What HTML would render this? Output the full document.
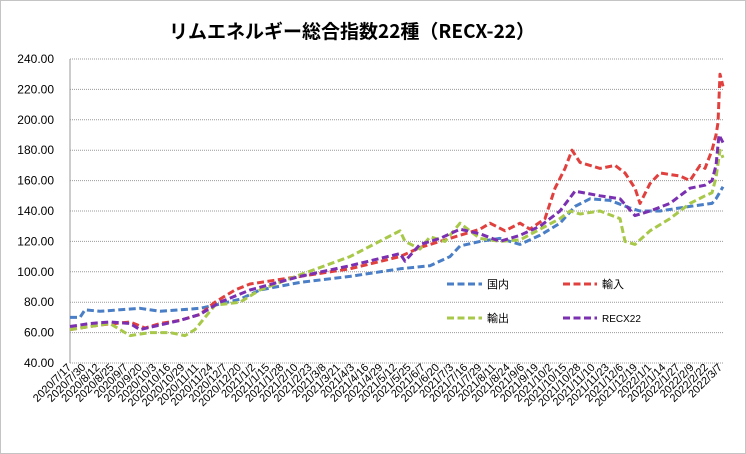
<!DOCTYPE html>
<html><head><meta charset="utf-8"><style>
body{margin:0;background:#fff}
svg{display:block;font-family:"Liberation Sans","Noto Sans CJK JP",sans-serif}
</style></head><body>
<svg id="s" width="746" height="454" viewBox="0 0 746 454" xmlns="http://www.w3.org/2000/svg">
<rect x="0.5" y="0.5" width="745" height="453" fill="#fff" stroke="#888" stroke-dasharray="1 1"/>
<text x="352" y="38" text-anchor="middle" font-size="19" font-weight="bold" font-family="'Noto Sans CJK JP',sans-serif">リムエネルギー総合指数22種（RECX-22）</text>
<g id="grid"></g>
<g id="ylab" font-size="12" text-anchor="end"></g>
<g id="xlab" font-size="11"></g>
<g id="series" fill="none" stroke-width="3" stroke-dasharray="7 3.5" stroke-linejoin="round"></g>
<g font-size="11" font-family="'Noto Sans CJK JP',sans-serif">
<line x1="447" y1="284" x2="482" y2="284" stroke="#4a7ec6" stroke-width="3" stroke-dasharray="7 3.5"/><text x="487" y="288">国内</text>
<line x1="563" y1="284" x2="597" y2="284" stroke="#e0403e" stroke-width="3" stroke-dasharray="7 3.5"/><text x="602" y="288">輸入</text>
<line x1="447" y1="318" x2="482" y2="318" stroke="#a8c84a" stroke-width="3" stroke-dasharray="7 3.5"/><text x="487" y="322">輸出</text>
<line x1="563" y1="318" x2="597" y2="318" stroke="#7a30b0" stroke-width="3" stroke-dasharray="7 3.5"/><text x="602" y="322" font-family="'Liberation Sans',sans-serif" font-size="10">RECX22</text>
</g>
</svg>
<script>
const NS="http://www.w3.org/2000/svg";
const Y=v=>59+(240-v)*1.52;
function el(p,t,a,txt){const e=document.createElementNS(NS,t);for(const k in a)e.setAttribute(k,a[k]);if(txt)e.textContent=txt;document.getElementById(p).appendChild(e);}
for(let v=40;v<=240;v+=20){el("grid","line",{x1:70,x2:723,y1:Y(v),y2:Y(v),stroke:"#999","stroke-dasharray":"1 1"});el("ylab","text",{x:54,y:Y(v)+4},v.toFixed(2));}
el("grid","line",{x1:70,x2:70,y1:59,y2:363,stroke:"#999"});
const labs=["2020/7/17","2020/7/30","2020/8/12","2020/8/25","2020/9/7","2020/9/20","2020/10/3","2020/10/16","2020/10/29","2020/11/11","2020/11/24","2020/12/7","2020/12/20","2021/1/2","2021/1/15","2021/1/28","2021/2/10","2021/2/23","2021/3/8","2021/3/21","2021/4/3","2021/4/16","2021/4/29","2021/5/12","2021/5/25","2021/6/7","2021/6/20","2021/7/3","2021/7/16","2021/7/29","2021/8/11","2021/8/24","2021/9/6","2021/9/19","2021/10/2","2021/10/15","2021/10/28","2021/11/10","2021/11/23","2021/12/6","2021/12/19","2022/1/1","2022/1/14","2022/1/27","2022/2/9","2022/2/22","2022/3/7"];
labs.forEach((l,i)=>{const x=72+i*14.15;el("xlab","text",{x:x,y:368,"text-anchor":"end",transform:`rotate(-45 ${x} 368)`},l);});
const S=[
["#4a7ec6",[[70,70],[80,70],[85,75],[100,74],[140,76],[160,74],[200,76],[215,78],[240,82],[260,88],[300,93],[350,97],[400,102],[430,104],[450,110],[460,117],[480,120],[500,122],[520,118],[540,124],[560,132],[575,143],[590,148],[610,147],[630,142],[640,140],[660,140],[690,143],[712,145],[716,148],[723,156]]],
["#e0403e",[[70,62],[100,65],[130,67],[145,63],[160,66],[180,68],[200,72],[215,80],[235,88],[250,92],[300,97],[350,102],[400,110],[420,116],[440,120],[460,124],[480,128],[490,132],[505,127],[520,132],[530,128],[545,135],[555,155],[565,168],[572,180],[580,172],[600,168],[615,170],[625,165],[635,155],[640,145],[650,158],[660,165],[680,163],[690,160],[700,170],[705,168],[712,180],[716,190],[718,198],[720,230],[723,222]]],
["#a8c84a",[[70,62],[90,64],[110,66],[120,62],[130,58],[150,60],[170,60],[185,58],[195,62],[205,70],[215,78],[240,80],[260,88],[300,98],[350,110],[400,127],[405,120],[420,115],[430,123],[445,120],[460,132],[480,122],[500,120],[520,121],[540,128],[560,135],[570,140],[580,138],[600,140],[620,135],[625,120],[635,118],[650,127],[670,135],[690,145],[705,150],[712,152],[716,162],[720,180],[723,175]]],
["#7a30b0",[[70,64],[90,66],[110,67],[130,66],[140,62],[160,65],[180,68],[200,72],[220,80],[250,88],[300,97],[350,104],[400,112],[405,107],[420,118],[440,122],[460,128],[480,125],[500,120],[520,124],[540,130],[560,140],[575,153],[600,150],[620,148],[635,137],[650,140],[670,145],[690,155],[705,157],[712,160],[716,170],[719,190],[723,185]]]];
S.forEach(([c,p])=>el("series","polyline",{stroke:c,points:p.map(q=>q[0]+","+Y(q[1]).toFixed(1)).join(" ")}));
</script>
</body></html>
